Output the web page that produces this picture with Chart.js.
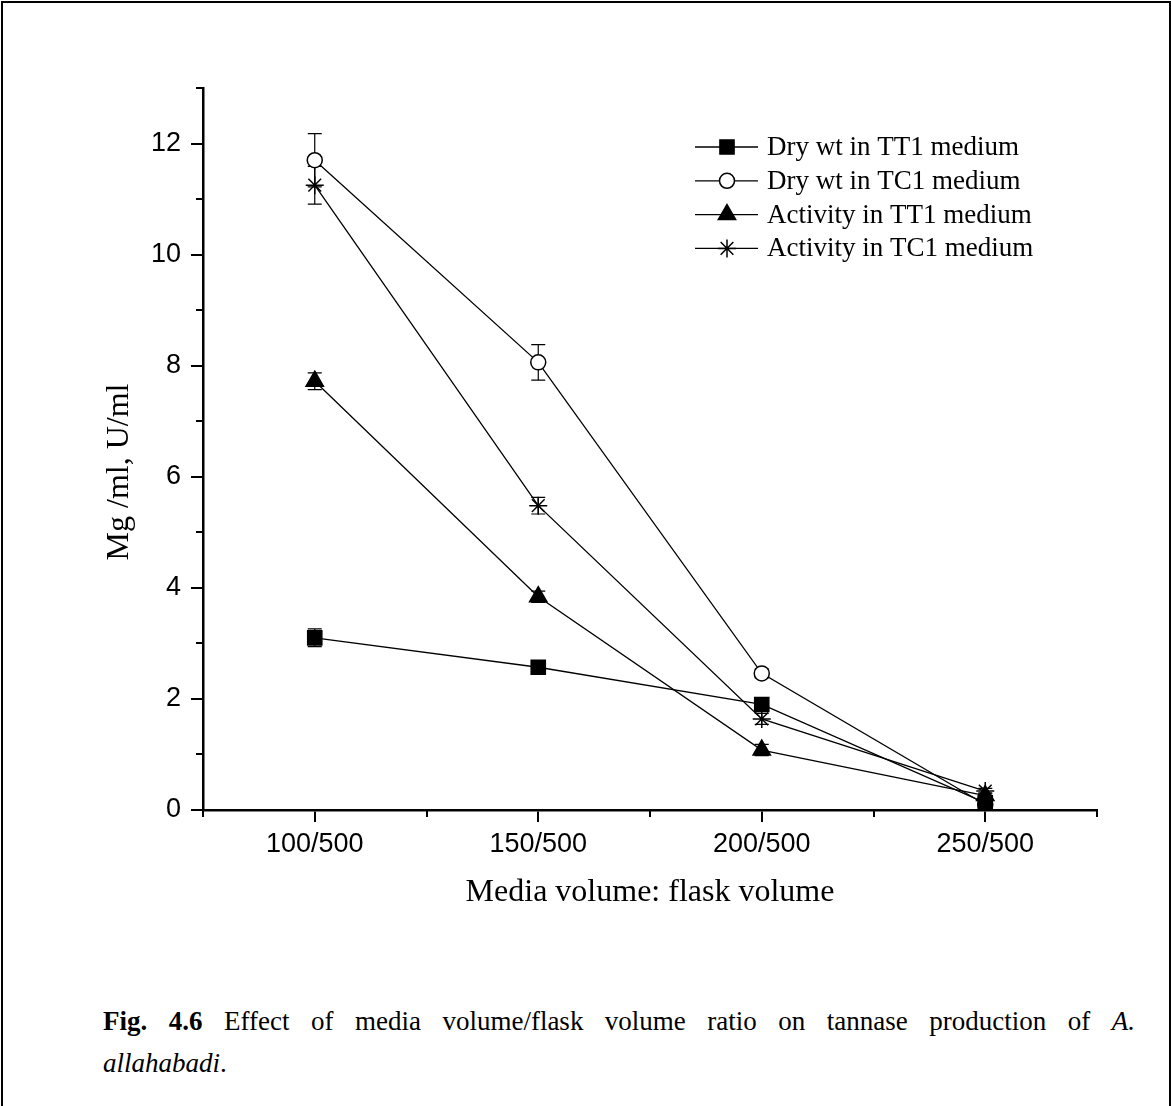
<!DOCTYPE html>
<html><head><meta charset="utf-8">
<script src="https://cdn.jsdelivr.net/npm/chart.js@4.4.1/dist/chart.umd.min.js"></script>
<style>
html,body{margin:0;padding:0;background:#fff;}
body{width:1171px;height:1106px;position:relative;overflow:hidden;}
#frame{position:absolute;left:1px;top:1px;width:1166px;height:1110px;border:2px solid #000;border-bottom:none;}
#c{position:absolute;left:0;top:0;}
.cap{position:absolute;left:103px;width:1032px;font-family:"Liberation Serif","Times New Roman",serif;font-size:27px;line-height:42px;color:#000;white-space:nowrap;}
#cap1{top:1000px;text-align:justify;text-align-last:justify;white-space:normal;}
#cap2{top:1042px;}
</style></head>
<body>
<div id="frame"></div>
<canvas id="c" width="1171" height="960"></canvas>
<div class="cap" id="cap1"><b>Fig. 4.6</b> Effect of media volume/flask volume ratio on tannase production of <i>A.</i></div>
<div class="cap" id="cap2"><i>allahabadi</i>.</div>
<script>
// ---- data ----
const categories = ['100/500', '150/500', '200/500', '250/500'];
const seriesNames = ['Dry wt in TT1 medium', 'Dry wt in TC1 medium', 'Activity in TT1 medium', 'Activity in TC1 medium'];
const dryTT1 = [3.1, 2.57, 1.9, 0.13];
const dryTT1Err = [0.16, 0.08, 0.08, 0.05];
const dryTC1 = [11.7, 8.06, 2.46, 0.1];
const dryTC1Err = [0.48, 0.32, 0.08, 0.05];
const actTT1 = [7.72, 3.84, 1.08, 0.26];
const actTT1Err = [0.15, 0.1, 0.1, 0.05];
const actTC1 = [11.25, 5.48, 1.64, 0.34];
const actTC1Err = [0.34, 0.15, 0.1, 0.05];
const yMajorTicks = [0, 2, 4, 6, 8, 10, 12];
const yMinorTicks = [1, 3, 5, 7, 9, 11, 13];
const xMinorTicks = [-0.5, 0.5, 1.5, 2.5, 3.5];
const errorSeries = [dryTT1Err, dryTC1Err, actTT1Err, actTC1Err];

const SERIF = '"Liberation Serif", "Times New Roman", serif';
const SANS = '"Liberation Sans", Arial, sans-serif';

function ds(label, data, style, radius, fill) {
  return {
    label, data,
    borderColor: '#000', borderWidth: 1.3,
    pointStyle: style, pointRadius: radius, pointHoverRadius: radius,
    pointBackgroundColor: fill, pointBorderColor: '#000', pointBorderWidth: 1.5,
    tension: 0, fill: false
  };
}

const extras = {
  id: 'extras',
  beforeDatasetsDraw(chart) {
    const ctx = chart.ctx, xs = chart.scales.x, ys = chart.scales.y;
    ctx.save();
    ctx.strokeStyle = '#000';
    ctx.lineWidth = 1.2;
    chart.data.datasets.forEach((d, di) => {
      d.data.forEach((v, i) => {
        const e = errorSeries[di][i];
        const px = xs.getPixelForValue(i);
        const t = ys.getPixelForValue(v + e), b = ys.getPixelForValue(v - e);
        ctx.beginPath();
        ctx.moveTo(px, t); ctx.lineTo(px, b);
        ctx.moveTo(px - 7, t); ctx.lineTo(px + 7, t);
        ctx.moveTo(px - 7, b); ctx.lineTo(px + 7, b);
        ctx.stroke();
      });
    });
    ctx.restore();
  },
  afterDraw(chart) {
    const ctx = chart.ctx, xs = chart.scales.x, ys = chart.scales.y, ca = chart.chartArea;
    ctx.save();
    ctx.strokeStyle = '#000';
    ctx.lineWidth = 2;
    // minor ticks
    yMinorTicks.forEach(v => {
      const py = Math.round(ys.getPixelForValue(v));
      ctx.beginPath(); ctx.moveTo(ca.left, py); ctx.lineTo(ca.left - 7, py); ctx.stroke();
    });
    xMinorTicks.forEach(v => {
      const px = Math.round(xs.getPixelForValue(v));
      ctx.beginPath(); ctx.moveTo(px, ca.bottom); ctx.lineTo(px, ca.bottom + 7); ctx.stroke();
    });
    // y title
    ctx.fillStyle = '#000';
    ctx.font = '32px ' + SERIF;
    ctx.textAlign = 'center';
    ctx.textBaseline = 'middle';
    ctx.translate(120, 472);
    ctx.rotate(-Math.PI / 2);
    ctx.fillText('Mg /ml, U/ml', 0, 0);
    ctx.restore();
    // legend
    ctx.save();
    chart.data.datasets.forEach((d, i) => {
      const y = 147 + i * 33.8;
      ctx.strokeStyle = '#000';
      ctx.lineWidth = 1.3;
      ctx.beginPath(); ctx.moveTo(695, y); ctx.lineTo(758, y); ctx.stroke();
      ctx.fillStyle = d.pointBackgroundColor;
      ctx.lineWidth = 1.5;
      Chart.helpers.drawPoint(ctx, { pointStyle: d.pointStyle, radius: d.pointRadius, borderWidth: 1.5, rotation: 0 }, 727, y);
      ctx.fillStyle = '#000';
      ctx.font = '27px ' + SERIF;
      ctx.textAlign = 'left';
      ctx.textBaseline = 'middle';
      ctx.fillText(d.label, 767, y + 1);
    });
    ctx.restore();
  }
};

new Chart(document.getElementById('c'), {
  type: 'line',
  data: {
    labels: categories,
    datasets: [
      ds(seriesNames[0], dryTT1, 'rect', 10, '#000'),
      ds(seriesNames[1], dryTC1, 'circle', 7.5, '#fff'),
      ds(seriesNames[2], actTT1, 'triangle', 10, '#000'),
      ds(seriesNames[3], actTC1, 'star', 9, '#000')
    ]
  },
  options: {
    responsive: false, animation: false, devicePixelRatio: 1,
    layout: { padding: { left: 0, top: 88, right: 74, bottom: 0 } },
    plugins: { legend: { display: false }, tooltip: { enabled: false } },
    scales: {
      x: {
        type: 'category', offset: true,
        grid: { offset: false, drawOnChartArea: false, drawTicks: true, tickLength: 12, color: '#000', lineWidth: 2 },
        border: { display: true, color: '#000', width: 2.5 },
        ticks: { color: '#000', font: { family: SANS, size: 27 }, padding: 6, maxRotation: 0, autoSkip: false },
        title: { display: true, text: 'Media volume: flask volume', color: '#000', font: { family: SERIF, size: 32 }, padding: { top: 0, bottom: 48 } },
        afterFit(s) { s.height = 150; }
      },
      y: {
        min: 0, max: 13,
        afterBuildTicks(s) { s.ticks = yMajorTicks.map(v => ({ value: v })); },
        grid: { drawOnChartArea: false, drawTicks: true, tickLength: 12, color: '#000', lineWidth: 2 },
        border: { display: true, color: '#000', width: 2.5 },
        ticks: { color: '#000', font: { family: SANS, size: 27 }, padding: 10 },
        afterFit(s) { s.width = 203; }
      }
    }
  },
  plugins: [extras]
});
</script>
</body></html>
